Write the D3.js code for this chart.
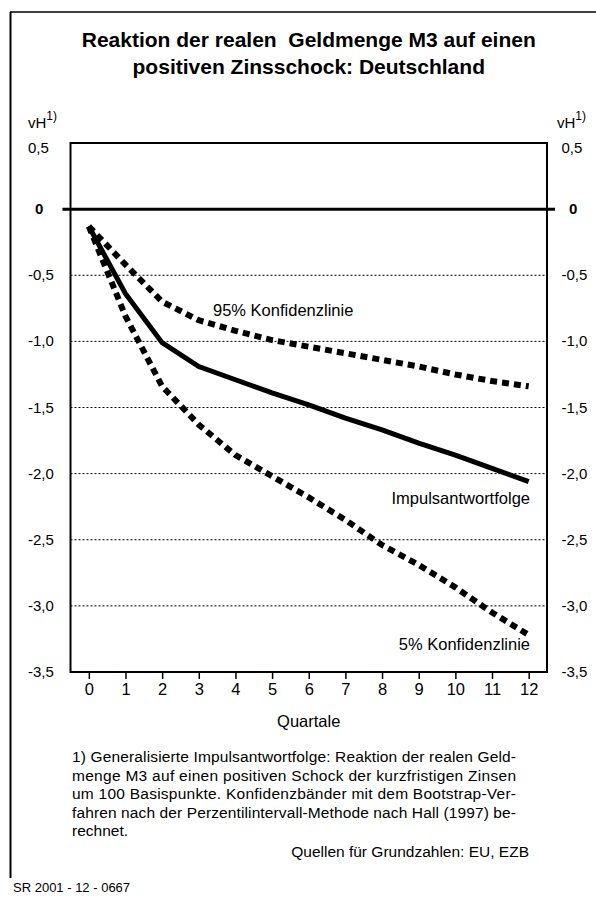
<!DOCTYPE html>
<html>
<head>
<meta charset="utf-8">
<script src="https://cdn.jsdelivr.net/npm/d3@7"></script>
<style>
  body { margin: 0; background: #fff; }
  svg { display: block; font-family: "Liberation Sans", Arial, sans-serif; }
</style>
</head>
<body>
<svg id="chart"></svg>
<script>
// Quartale nach dem Zinsschock
var quartale = [0, 1, 2, 3, 4, 5, 6, 7, 8, 9, 10, 11, 12];
// Impulsantwortfolge (vH)
var impuls = [-0.13, -0.64, -1.01, -1.19, -1.29, -1.39, -1.48, -1.58, -1.67, -1.77, -1.86, -1.96, -2.06];
// 95% Konfidenzlinie
var konf95 = [-0.13, -0.42, -0.70, -0.84, -0.92, -0.99, -1.04, -1.09, -1.14, -1.19, -1.25, -1.30, -1.34];
// 5% Konfidenzlinie
var konf5 = [-0.13, -0.81, -1.34, -1.63, -1.86, -2.02, -2.18, -2.35, -2.54, -2.69, -2.86, -3.05, -3.22];
// y-Achse
var yTicks = [0.5, 0, -0.5, -1.0, -1.5, -2.0, -2.5, -3.0, -3.5];
var gridTicks = [-0.5, -1.0, -1.5, -2.0, -2.5, -3.0];

var titel = ["Reaktion der realen\u00a0 Geldmenge M3 auf einen", "positiven Zinsschock: Deutschland"];
var fussnote = [
  "1) Generalisierte Impulsantwortfolge: Reaktion der realen Geld-",
  "menge M3 auf einen positiven Schock der kurzfristigen Zinsen",
  "um 100 Basispunkte. Konfidenzbänder mit dem Bootstrap-Ver-",
  "fahren nach der Perzentilintervall-Methode nach Hall (1997) be-",
  "rechnet."
];

var W = 596, H = 897;
var plotL = 70.5, plotR = 547, plotT = 143, plotB = 672;

var svg = d3.select("#chart").attr("width", W).attr("height", H);

// outer frame (top + left only)
svg.append("line").attr("x1", 10).attr("y1", 12).attr("x2", W).attr("y2", 12)
  .attr("stroke", "#000").attr("stroke-width", 1.5);
svg.append("line").attr("x1", 10.5).attr("y1", 12).attr("x2", 10.5).attr("y2", 878)
  .attr("stroke", "#000").attr("stroke-width", 2);

var xScale = d3.scalePoint().domain(quartale).range([plotL, plotR]).padding(0.5);
var yScale = d3.scaleLinear().domain([-3.5, 0.5]).range([plotB, plotT]);
var cx = (plotL + plotR) / 2;

// title
svg.selectAll("text.titel").data(titel).enter().append("text")
  .attr("class", "titel")
  .attr("x", cx).attr("y", (d, i) => 47 + i * 27)
  .attr("text-anchor", "middle")
  .style("font-size", "21px").style("font-weight", "bold")
  .text(d => d);

// grid lines
svg.selectAll("line.grid").data(gridTicks).enter().append("line")
  .attr("class", "grid")
  .attr("x1", plotL).attr("x2", plotR)
  .attr("y1", d => yScale(d)).attr("y2", d => yScale(d))
  .attr("stroke", "#000").attr("stroke-width", 1).attr("stroke-dasharray", "2,2");

// plot frame
svg.append("rect")
  .attr("x", plotL).attr("y", plotT)
  .attr("width", plotR - plotL).attr("height", plotB - plotT)
  .attr("fill", "none").attr("stroke", "#000").attr("stroke-width", 2);

// zero line
svg.append("line")
  .attr("x1", plotL - 8).attr("x2", plotR + 8)
  .attr("y1", yScale(0)).attr("y2", yScale(0))
  .attr("stroke", "#000").attr("stroke-width", 3);

// x axis
var xAxis = svg.append("g")
  .attr("transform", "translate(0," + plotB + ")")
  .call(d3.axisBottom(xScale).tickSize(7).tickPadding(4));
xAxis.select(".domain").remove();
xAxis.selectAll(".tick line").attr("stroke-width", 1.5);
xAxis.selectAll(".tick text")
  .style("font-size", "16.5px").style("font-family", "Liberation Sans, Arial, sans-serif")
  .attr("fill", "#000");

svg.append("text").attr("x", cx).attr("y", 727)
  .attr("text-anchor", "middle").style("font-size", "16.5px").text("Quartale");

// y labels, both sides
function fmt(v) {
  if (v === 0) return "0";
  return d3.format(".1f")(v).replace(".", ",").replace("\u2212", "-");
}
function yLab(v) {
  if (v === 0.5) return yScale(v) + 10;
  return yScale(v) + 5;
}
svg.selectAll("text.yl").data(yTicks).enter().append("text")
  .attr("class", "yl")
  .attr("x", d => d === 0 ? 35 : 28)
  .attr("y", yLab)
  .style("font-size", "15px")
  .style("font-weight", d => d === 0 ? "bold" : "normal")
  .text(fmt);
svg.selectAll("text.yr").data(yTicks).enter().append("text")
  .attr("class", "yr")
  .attr("x", d => d === 0 ? 569 : 561.5)
  .attr("y", yLab)
  .style("font-size", "15px")
  .style("font-weight", d => d === 0 ? "bold" : "normal")
  .text(fmt);

// unit labels
[28, 557].forEach(function(x) {
  var t = svg.append("text").attr("x", x).attr("y", 128).style("font-size", "15px");
  t.append("tspan").text("vH");
  t.append("tspan").attr("dy", -8).style("font-size", "12px").text("1)");
});

// lines
var line = d3.line()
  .x((d, i) => xScale(quartale[i]))
  .y(d => yScale(d));

svg.append("path").datum(konf95)
  .attr("d", line).attr("fill", "none").attr("stroke", "#000")
  .attr("stroke-width", 6).attr("stroke-dasharray", "7,5");
svg.append("path").datum(konf5)
  .attr("d", line).attr("fill", "none").attr("stroke", "#000")
  .attr("stroke-width", 6).attr("stroke-dasharray", "7,5");
svg.append("path").datum(impuls)
  .attr("d", line).attr("fill", "none").attr("stroke", "#000")
  .attr("stroke-width", 5).attr("stroke-linejoin", "miter");

// line labels
svg.append("text").attr("x", 213).attr("y", 316)
  .style("font-size", "16.5px").text("95% Konfidenzlinie");
svg.append("text").attr("x", 530).attr("y", 504).attr("text-anchor", "end")
  .style("font-size", "16.5px").text("Impulsantwortfolge");
svg.append("text").attr("x", 530).attr("y", 650).attr("text-anchor", "end")
  .style("font-size", "16.5px").text("5% Konfidenzlinie");

// footnote
svg.selectAll("text.fn").data(fussnote).enter().append("text")
  .attr("class", "fn")
  .attr("x", 72).attr("y", (d, i) => 762 + i * 18.5)
  .style("font-size", "15.5px")
  .attr("textLength", (d, i) => i < 4 ? 444 : null)
  .attr("lengthAdjust", "spacing")
  .text(d => d);

svg.append("text").attr("x", 529).attr("y", 857).attr("text-anchor", "end")
  .style("font-size", "15.5px").text("Quellen für Grundzahlen: EU, EZB");

svg.append("text").attr("x", 13).attr("y", 892)
  .style("font-size", "13px").text("SR 2001 - 12 - 0667");
</script>
</body>
</html>
